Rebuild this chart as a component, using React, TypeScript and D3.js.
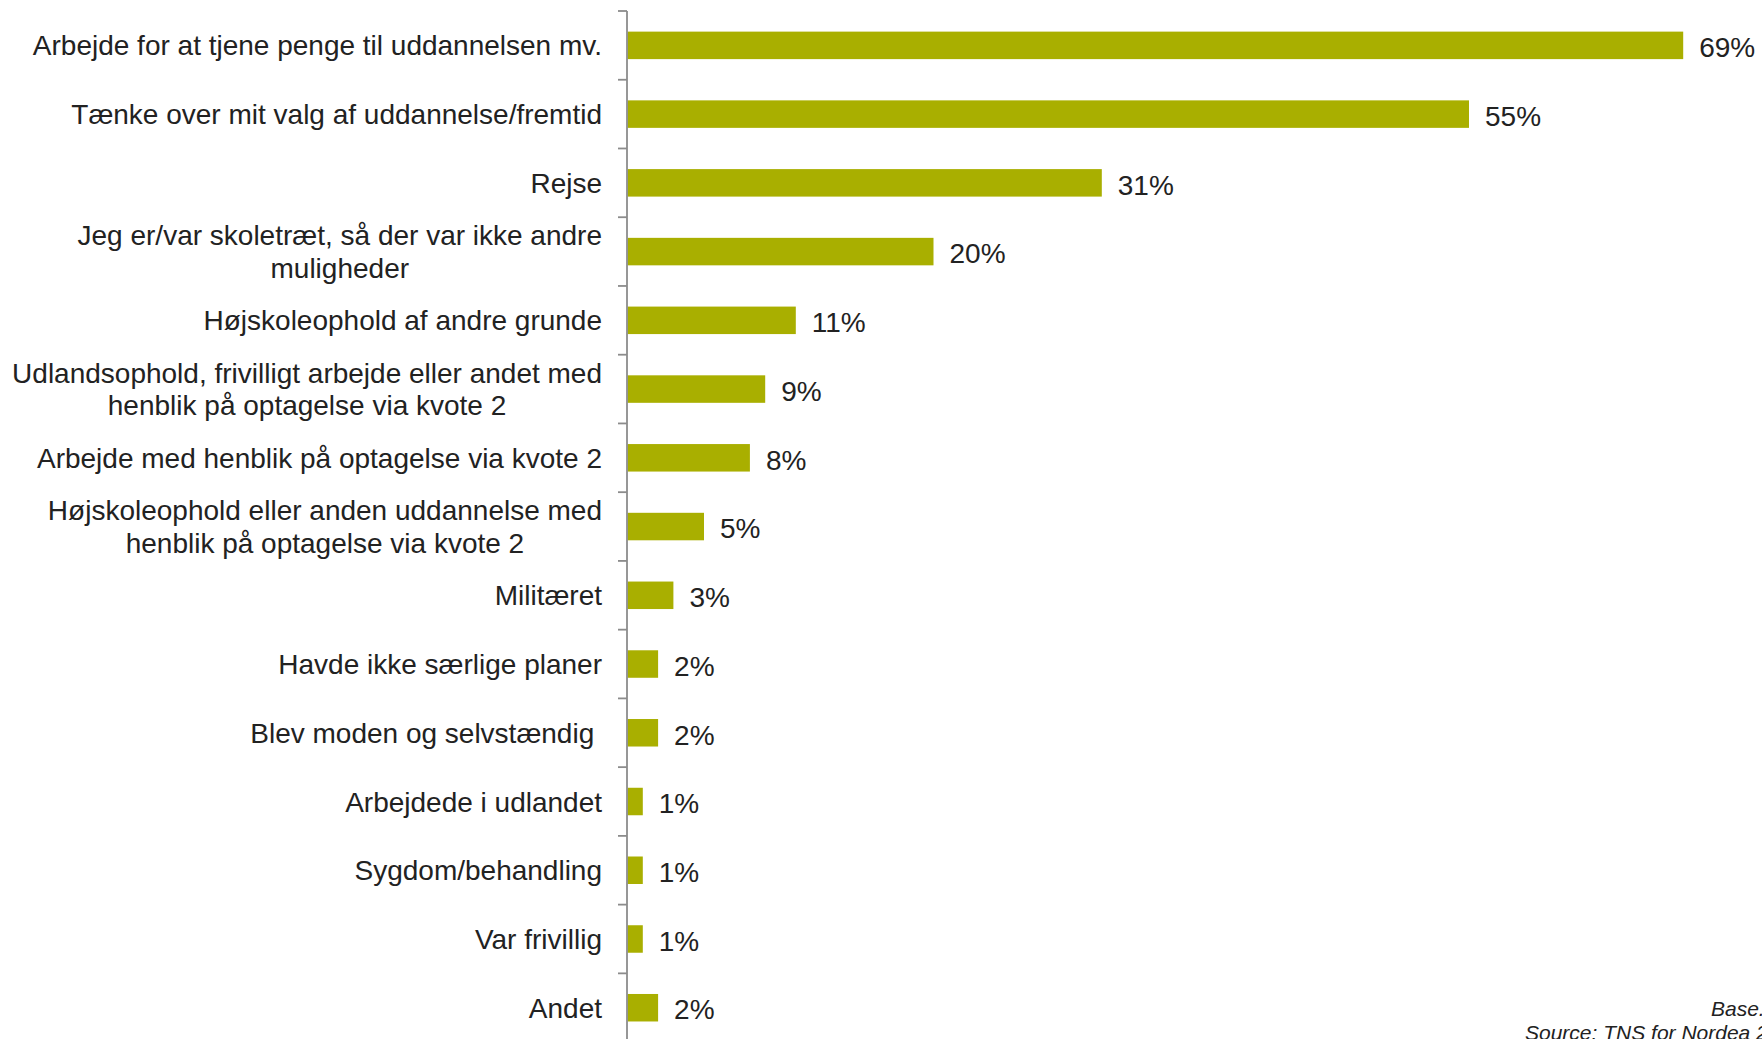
import React from "react";
import * as d3 from "d3";

const categories: string[] = [
  "Arbejde for at tjene penge til uddannelsen mv.",
  "Tænke over mit valg af uddannelse/fremtid",
  "Rejse",
  "Jeg er/var skoletræt, så der var ikke andre\nmuligheder",
  "Højskoleophold af andre grunde",
  "Udlandsophold, frivilligt arbejde eller andet med\nhenblik på optagelse via kvote 2",
  "Arbejde med henblik på optagelse via kvote 2",
  "Højskoleophold eller anden uddannelse med\nhenblik på optagelse via kvote 2",
  "Militæret",
  "Havde ikke særlige planer",
  "Blev moden og selvstændig ",
  "Arbejdede i udlandet",
  "Sygdom/behandling",
  "Var frivillig",
  "Andet",
];

const values: number[] = [69, 55, 31, 20, 11, 9, 8, 5, 3, 2, 2, 1, 1, 1, 2];

const footnotes: string[] = ["Base.", "Source: TNS for Nordea 2"];

const W = 1762;
const H = 1039;
const FONT = "'Liberation Sans', Arial, Helvetica, sans-serif";
const BAR = "#a9af00";
const TEXT = "#222222";
const AXIS = "#8c8c8c";
const LABEL_SIZE = 28;

let ctx: CanvasRenderingContext2D | null = null;
function measure(s: string): number {
  if (!ctx) {
    const c = document.createElement("canvas");
    ctx = c.getContext("2d");
  }
  if (!ctx) return s.length * LABEL_SIZE * 0.5;
  ctx.font = `${LABEL_SIZE}px ${FONT}`;
  return ctx.measureText(s).width;
}

export default function App() {
  const x = d3.scaleLinear().domain([0, 70]).range([627.5, 1698.5]);
  const y = d3
    .scaleBand<number>()
    .domain(d3.range(categories.length))
    .range([11, 11 + 15 * 68.74])
    .paddingInner(0.6)
    .paddingOuter(0.3);
  const step = y.step();
  const y0 = y.range()[0];
  const axisX = 627;
  const lineH = 32.5;
  const labelRight = 602;

  return (
    <svg
      width={W}
      height={H}
      style={{ position: "absolute", left: 0, top: 0, background: "#fff" }}
      fontFamily={FONT}
    >
      {values.map((v, i) => (
        <rect
          key={"b" + i}
          x={x(0)}
          y={y(i)!}
          width={x(v) - x(0)}
          height={y.bandwidth()}
          fill={BAR}
        />
      ))}
      <line x1={axisX} x2={axisX} y1={y0} y2={H + 10} stroke={AXIS} strokeWidth={1.8} />
      {d3.range(categories.length + 1).map((i) => (
        <line
          key={"t" + i}
          x1={axisX - 9}
          x2={axisX}
          y1={y0 + i * step}
          y2={y0 + i * step}
          stroke={AXIS}
          strokeWidth={1.8}
        />
      ))}
      {categories.map((c, i) => {
        const lines = c.split("\n");
        const cy = y(i)! + y.bandwidth() / 2;
        const startY = cy - ((lines.length - 1) * lineH) / 2;
        if (lines.length === 1) {
          return (
            <text
              key={"c" + i}
              x={labelRight}
              y={cy}
              dy="0.36em"
              textAnchor="end"
              fontSize={LABEL_SIZE}
              fill={TEXT}
              style={{ whiteSpace: "pre" }}
            >
              {c}
            </text>
          );
        }
        const maxW = Math.max(...lines.map(measure));
        const cx = labelRight - maxW / 2;
        return (
          <text
            key={"c" + i}
            textAnchor="middle"
            fontSize={LABEL_SIZE}
            fill={TEXT}
            style={{ whiteSpace: "pre" }}
          >
            {lines.map((l, j) => (
              <tspan key={j} x={cx} y={startY + j * lineH} dy="0.36em">
                {l}
              </tspan>
            ))}
          </text>
        );
      })}
      {values.map((v, i) => (
        <text
          key={"v" + i}
          x={x(v) + 16}
          y={y(i)! + y.bandwidth() / 2}
          dy="0.42em"
          fontSize={LABEL_SIZE}
          fill={TEXT}
        >
          {v + "%"}
        </text>
      ))}
      <text x={1711} y={1016} fontSize={21} fontStyle="italic" fill={TEXT}>
        {footnotes[0]}
      </text>
      <text x={1525} y={1040} fontSize={21} fontStyle="italic" fill={TEXT}>
        {footnotes[1]}
      </text>
    </svg>
  );
}
